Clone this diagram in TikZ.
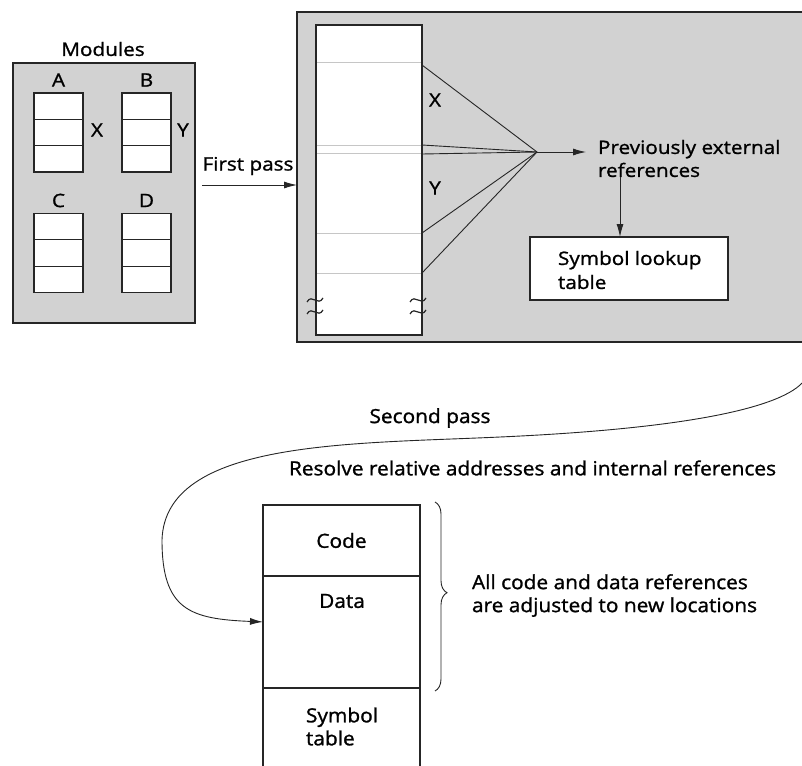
\documentclass[tikz,border=0pt]{standalone}
\usepackage{fontspec}
\setmainfont{Open Sans}
\newfontfamily\topf{Open Sans}[FakeStretch=1.12, FakeBold=1.2]
\newfontfamily\botf{Open Sans}[FakeStretch=1.07, FakeBold=1.2]
\usetikzlibrary{arrows.meta,calc,decorations.pathreplacing}
\tikzset{
  lbl/.style={inner sep=0pt, outer sep=0pt, font=\topf\fontsize{18.5}{23}\selectfont},
  lblb/.style={inner sep=0pt, outer sep=0pt, font=\botf\fontsize{19.5}{23}\selectfont},
  boxline/.style={draw=black!85, line width=1.3pt},
  graybox/.style={boxline, fill=gray!35, inner sep=0pt, outer sep=0pt},
  whitebox/.style={boxline, fill=white, inner sep=0pt, outer sep=0pt},
  arr/.style={draw=black!85, line width=0.9pt, -{Latex[length=13pt,width=7pt]}},
  thinline/.style={draw=black!85, line width=0.9pt},
  faint/.style={draw=gray!45, line width=0.6pt},
}
\begin{document}
\begin{tikzpicture}[x=1pt,y=-1pt]
\useasboundingbox (0,0) rectangle (802,765);
\clip (0,0) rectangle (802,765);

% ---------- Modules ----------
\node[graybox, minimum width=182pt, minimum height=260pt] (mods) at (104,193) {};
\node[lbl] (modt) at (103,49) {Modules};
\foreach \n/\x/\y/\l in {mA/58.5/132.5/A, mB/146.5/132.5/B, mC/58.5/253/C, mD/146.5/253/D} {
  \node[whitebox, minimum width=49pt, minimum height=79pt] (\n) at (\x,\y) {};
  \draw[boxline] ($(\n.north west)!1/3!(\n.south west)$) -- ($(\n.north east)!1/3!(\n.south east)$);
  \draw[boxline] ($(\n.north west)!2/3!(\n.south west)$) -- ($(\n.north east)!2/3!(\n.south east)$);
  \node[lbl] (\n l) at (\x,\y-52.5) {\l};
}
\node[lbl] (xa) at (97,130) {X};
\node[lbl] (yb) at (183,130) {Y};

% ---------- First pass ----------
\node[lbl] (fpt) at (248,166) {First pass};
\coordinate (fps) at (202,185);

% ---------- Big box ----------
\node[graybox, minimum width=520pt, minimum height=330pt] (big) at (557,177) {};
\draw[arr] (fps) -- (big.west |- fps);
\node[whitebox, minimum width=106pt, minimum height=310pt] (col) at (369,180) {};
\foreach \yy in {62,145,153,233,273}
  \draw[faint] ([xshift=1pt]col.west |- 0,\yy) -- ([xshift=-1pt]col.east |- 0,\yy);
\foreach \cx in {315,418} {
  \foreach \dy in {-6,6}
    \draw[black!85, line width=1.2pt] (\cx-8,306+\dy+2) .. controls (\cx-3,306+\dy-7) and (\cx+3,306+\dy+7) .. (\cx+8,306+\dy-2);
}
\node[lbl] (xc) at (435,100) {X};
\node[lbl] (yc) at (435,188) {Y};
\coordinate (apex) at (537,152);
\foreach \yy in {65,145,154,233,273}
  \draw[thinline] (col.east |- 0,\yy) -- (apex);
\node[lbl, anchor=west, align=left] (prev) at (598,158.5) {Previously external\\references};
\draw[arr] (apex) -- ([xshift=-12pt]prev.west |- apex);
\node[whitebox, minimum width=198pt, minimum height=63pt] (slt) at (629,268.5) {};
\node[lbl, anchor=west, align=left, font=\topf\fontsize{18.5}{24}\selectfont] (sltt) at (558,270) {Symbol lookup\\table};
\coordinate (dn) at (620,0);
\draw[arr] (prev.south -| dn) -- (slt.north -| dn);

% ---------- Second pass ----------
\node[lblb] (spt) at (430,418) {Second pass};
\node[lblb, anchor=west] (res) at (289,468) {Resolve relative addresses and internal references};

% ---------- Memory image ----------
\node[whitebox, minimum width=157pt, minimum height=71pt, font=\botf\fontsize{19.5}{23}\selectfont] (code) at (341.5,540.5) {Code};
\node[whitebox, minimum width=157pt, minimum height=112pt] (data) at (341.5,632) {};
\node[whitebox, minimum width=157pt, minimum height=112pt] (symt) at (341.5,744) {};
\node[lblb] (datat) at (342,601) {Data};
\node[lblb, anchor=west, align=left] (symtt) at (306,726.5) {Symbol\\table};

\coordinate (sp0) at (806,378);
\coordinate (dtip) at ($(data.north west)!0.41!(data.south west)$);
\draw[arr] (sp0) .. controls (790,405) and (700,428) .. (500,437)
  .. controls (350,444) and (165,440) .. (162,540)
  .. controls (162,610) and (190,619) .. (dtip);

\draw[thinline, decorate, decoration={brace, amplitude=12pt, aspect=0.48}]
  ([xshift=15pt,yshift=3pt]code.north east) -- ([xshift=15pt,yshift=-3pt]data.south east);
\node[lblb, anchor=west, align=left] (allc) at (472,595.5) {All code and data references\\are adjusted to new locations};
\end{tikzpicture}
\end{document}
